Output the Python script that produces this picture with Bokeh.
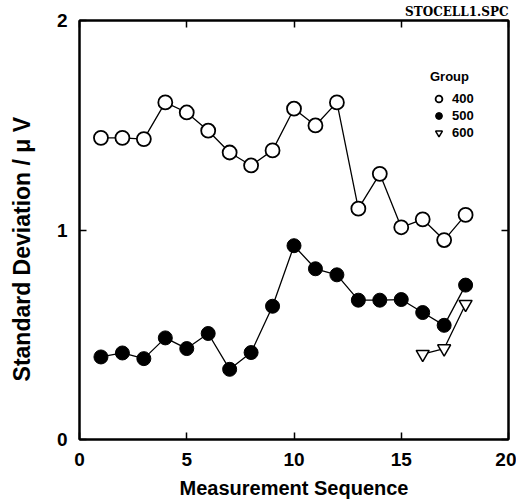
from bokeh.plotting import figure
from bokeh.models import LinearAxis, Legend, LegendItem, FixedTicker, Range1d
from bokeh.embed import file_html
from bokeh.resources import INLINE

seq = list(range(1, 19))
g400 = [1.44, 1.44, 1.434, 1.609, 1.561, 1.474, 1.37, 1.308, 1.38, 1.579,
        1.499, 1.609, 1.102, 1.268, 1.013, 1.051, 0.952, 1.072]
g500 = [0.394, 0.413, 0.386, 0.485, 0.434, 0.506, 0.335, 0.415, 0.636, 0.925,
        0.815, 0.786, 0.665, 0.665, 0.668, 0.606, 0.545, 0.737]
seq600 = [16, 17, 18]
g600 = [0.407, 0.434, 0.646]
xticks = [0, 5, 10, 15, 20]
yticks = [0, 1, 2]

FONT = "Liberation Sans"

p = figure(width=516, height=501, output_backend="svg", toolbar_location=None,
           x_range=Range1d(0, 20), y_range=Range1d(0, 2),
           title="STOCELL1.SPC",
           min_border_left=79, min_border_right=8, min_border_top=0, min_border_bottom=54)
p.title.align = "right"
p.title.text_font = "DejaVu Serif"
p.title.text_font_style = "bold"
p.title.text_font_size = "12px"
p.title.text_color = "black"
p.title.standoff = 4
p.grid.visible = False
p.background_fill_color = "white"
p.border_fill_color = "white"
p.outline_line_color = "black"
p.outline_line_width = 2

def style_axis(ax, labels=True):
    ax.axis_line_color = "black"
    ax.axis_line_width = 2
    ax.major_tick_in = 7
    ax.major_tick_out = 0
    ax.major_tick_line_width = 1.5
    ax.minor_tick_line_color = None
    ax.major_label_text_font = FONT
    ax.major_label_text_font_style = "bold"
    ax.major_label_text_font_size = "19px"
    ax.major_label_text_color = "black"
    if not labels:
        ax.major_label_text_alpha = 0
        ax.major_label_text_font_size = "1px"
        ax.major_label_standoff = 0

p.xaxis.ticker = FixedTicker(ticks=xticks)
p.yaxis.ticker = FixedTicker(ticks=yticks)
style_axis(p.xaxis[0])
style_axis(p.yaxis[0])
p.xaxis.major_label_standoff = 13
p.yaxis.major_label_standoff = 12
p.xaxis.axis_label = "Measurement Sequence"
p.yaxis.axis_label = "Standard Deviation / \u03bc V\u00a0\u00a0\u00a0\u00a0\u00a0\u00a0"
for ax in (p.xaxis[0], p.yaxis[0]):
    ax.axis_label_text_font = FONT
    ax.axis_label_text_font_style = "bold"
    ax.axis_label_text_font_size = "20px"
    ax.axis_label_text_color = "black"
p.yaxis.axis_label_text_font_size = "23px"
p.xaxis.axis_label_standoff = 8
p.yaxis.axis_label_standoff = 19

top = LinearAxis(ticker=FixedTicker(ticks=xticks))
style_axis(top, labels=False)
p.add_layout(top, "above")
right = LinearAxis(ticker=FixedTicker(ticks=yticks))
style_axis(right, labels=False)
p.add_layout(right, "right")

p.line(seq, g400, line_color="black", line_width=1.3)
r400 = p.scatter(seq, g400, marker="circle", size=14, fill_color="white",
                 line_color="black", line_width=1.8)
p.line(seq, g500, line_color="black", line_width=1.3)
r500 = p.scatter(seq, g500, marker="circle", size=14, fill_color="black",
                 line_color="black", line_width=1)
p.line(seq600, g600, line_color="black", line_width=1.3)
r600 = p.scatter(seq600, g600, marker="inverted_triangle", size=13, fill_color="white",
                 line_color="black", line_width=1.5)

legend = Legend(items=[LegendItem(label="400", renderers=[r400]),
                       LegendItem(label="500", renderers=[r500]),
                       LegendItem(label="600", renderers=[r600])],
                location=(351, 298), title="Group",
                border_line_color=None, background_fill_alpha=0,
                padding=0, margin=0, spacing=0,
                glyph_width=17, glyph_height=17, label_height=14,
                label_standoff=5,
                label_text_font=FONT, label_text_font_style="bold",
                label_text_font_size="13px", label_text_color="black",
                title_text_font=FONT, title_text_font_style="bold",
                title_text_font_size="13px", title_text_color="black",
                title_standoff=6)
p.add_layout(legend)

open("out.html", "w").write(file_html(p, INLINE))
